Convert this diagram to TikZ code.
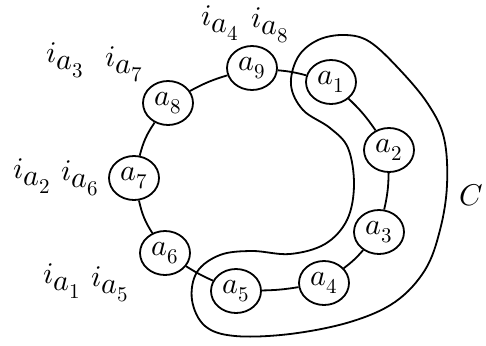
\documentclass[tikz,border=0pt]{standalone}
\usepackage{unicode-math}
\setmathfont{Latin Modern Math}
\usetikzlibrary{shapes.geometric}
\begin{document}
\begin{tikzpicture}[x=1pt,y=-1pt,
  vnode/.style={ellipse,draw,line width=1.8pt,minimum width=50pt,minimum height=44pt,inner sep=0pt,fill=white,font=\fontsize{30}{34}\selectfont},
  lbl/.style={inner sep=0pt,font=\fontsize{30}{34}\selectfont},
  edge/.style={line width=1.8pt}]
\useasboundingbox (0,0) rectangle (486,345);
\node[vnode] (a1) at (331,82) {$a_1$};
\node[vnode] (a2) at (389,150) {$a_2$};
\node[vnode] (a3) at (379,232) {$a_3$};
\node[vnode] (a4) at (324,283) {$a_4$};
\node[vnode] (a5) at (236,291) {$a_5$};
\node[vnode] (a6) at (165,253) {$a_6$};
\node[vnode] (a7) at (134,178) {$a_7$};
\node[vnode] (a8) at (168,103) {$a_8$};
\node[vnode] (a9) at (252,68) {$a_9$};
\draw[edge] (a9) to[bend left=5] (a1);
\draw[edge] (a1) to[bend left=6] (a2);
\draw[edge] (a2) to[bend left=6] (a3);
\draw[edge] (a3) to[bend left=6] (a4);
\draw[edge] (a4) to[bend left=4] (a5);
\draw[edge] (a5) to[bend left=4] (a6);
\draw[edge] (a6) to[bend left=10] (a7);
\draw[edge] (a7) to[bend left=10] (a8);
\draw[edge] (a8) to[bend left=6] (a9);
\draw[line width=1.8pt] plot[smooth cycle,tension=0.6] coordinates {
 (318,40) (345,35) (370,42) (400,70) (428,104) (444,138) (447,185) (440,230) (425,270) (395,302)
 (350,322) (290,334) (235,336) (205,326) (192,300) (197,272) (220,255) (252,251) (290,254)
 (325,244) (347,220) (354,185) (348,148) (330,128) (303,110) (291,85) (298,57)};
\node[lbl] (l4) at (220,23) {$i_{\textstyle a_4}$};
\node[lbl] (l8) at (270,25) {$i_{\textstyle a_8}$};
\node[lbl] (l3) at (65,60) {$i_{\textstyle a_3}$};
\node[lbl] (l7) at (124,64) {$i_{\textstyle a_7}$};
\node[lbl] (l2) at (32,176) {$i_{\textstyle a_2}$};
\node[lbl] (l6) at (80,178) {$i_{\textstyle a_6}$};
\node[lbl] (l1) at (62,281) {$i_{\textstyle a_1}$};
\node[lbl] (l5) at (110,284) {$i_{\textstyle a_5}$};
\node[lbl] (lc) at (471,195) {$C$};
\end{tikzpicture}
\end{document}
